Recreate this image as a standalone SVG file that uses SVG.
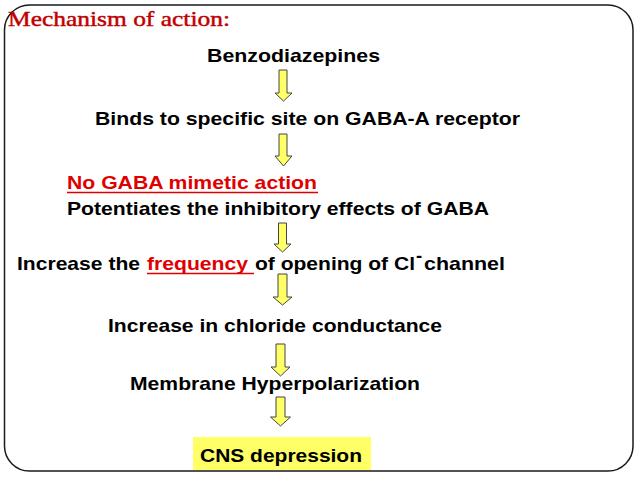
<svg xmlns="http://www.w3.org/2000/svg" width="638" height="479" viewBox="0 0 638 479">
<style>
.t{font-family:"Liberation Sans",Arial,sans-serif;font-weight:bold;font-size:18.5px;fill:#000}
.r{fill:#e00000}
.ul{stroke:#e00000;stroke-width:1.5}
.arr{fill:#ffff66;stroke:#444;stroke-width:1}
.title{font-family:"Liberation Serif","Times New Roman",serif;font-size:22px;fill:#c00000;stroke:#c00000;stroke-width:0.45}
</style>
<rect x="0" y="0" width="638" height="479" fill="#fff"/>
<rect x="4.5" y="5" width="628.5" height="466" rx="25" ry="25" fill="none" stroke="#1a1a1a" stroke-width="1.5"/>
<g id="title"><text class="title" x="8" y="25.5" textLength="222" lengthAdjust="spacingAndGlyphs">Mechanism of action:</text></g>
<g id="n1"><text class="t" x="207" y="62" textLength="173" lengthAdjust="spacingAndGlyphs">Benzodiazepines</text></g>
<g id="n2"><text class="t" x="95" y="125" textLength="425" lengthAdjust="spacingAndGlyphs">Binds to specific site on GABA-A receptor</text></g>
<g id="n3">
<text class="t r" x="67" y="189" textLength="250" lengthAdjust="spacingAndGlyphs">No GABA mimetic action</text>
<line class="ul" x1="67" y1="192.5" x2="318" y2="192.5"/>
<text class="t" x="67" y="215" textLength="422" lengthAdjust="spacingAndGlyphs">Potentiates the inhibitory effects of GABA</text>
</g>
<g id="n4">
<text class="t" x="17" y="270" textLength="123" lengthAdjust="spacingAndGlyphs">Increase the</text>
<text class="t r" x="147" y="270" textLength="101" lengthAdjust="spacingAndGlyphs">frequency</text>
<line class="ul" x1="147" y1="273.5" x2="254" y2="273.5"/>
<text class="t" x="255" y="270" textLength="160" lengthAdjust="spacingAndGlyphs">of opening of Cl</text>
<text class="t" x="416" y="262" font-size="12">-</text>
<text class="t" x="424" y="270" textLength="81" lengthAdjust="spacingAndGlyphs">channel</text>
</g>
<g id="n5"><text class="t" x="108" y="332" textLength="334" lengthAdjust="spacingAndGlyphs">Increase in chloride conductance</text></g>
<g id="n6"><text class="t" x="130" y="390" textLength="290" lengthAdjust="spacingAndGlyphs">Membrane Hyperpolarization</text></g>
<g id="n7">
<rect x="193" y="437" width="178" height="33" fill="#ffff66"/>
<text class="t" x="200" y="462" textLength="162" lengthAdjust="spacingAndGlyphs">CNS depression</text>
</g>
<g id="connectors">
<path class="arr" d="M279,70 H287 V93 H292 L283.5,101 L275,93 H279 Z"/>
<path class="arr" d="M279,134 H287 V156 H292 L283.5,166 L275,156 H279 Z"/>
<path class="arr" d="M278.5,223 H286.5 V244 H291 L282.5,252 L274,244 H278.5 Z"/>
<path class="arr" d="M278,274 H287 V297 H292 L282.5,305 L273,297 H278 Z"/>
<path class="arr" d="M276,344 H285 V367 H290 L280.5,376 L271,367 H276 Z"/>
<path class="arr" d="M276,397 H285 V417 H290.5 L280.5,426 L270.5,417 H276 Z"/>
</g>
</svg>
